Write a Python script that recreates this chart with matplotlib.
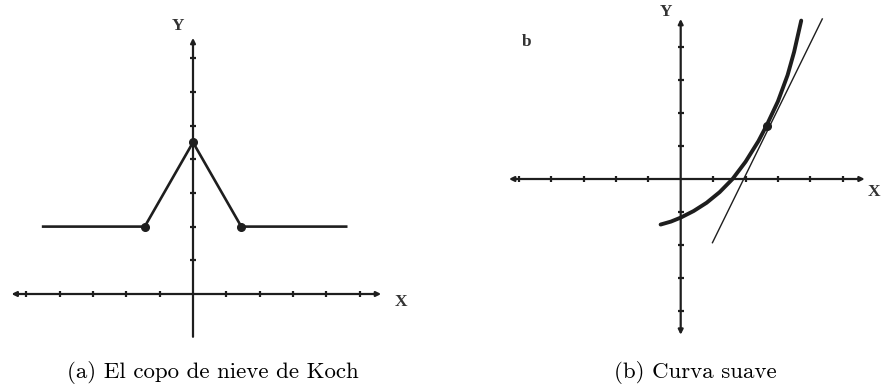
import matplotlib
matplotlib.use('Agg')
import matplotlib.pyplot as plt
import numpy as np

# (a) copo de Koch: tramo con pico
koch_x = [-4.5, -1.45, 0.0, 1.45, 4.6]
koch_y = [2.0, 2.0, 4.5, 2.0, 2.0]
koch_dots_x = [-1.45, 0.0, 1.45]
koch_dots_y = [2.0, 4.5, 2.0]
a_xticks = [-5, -4, -3, -2, -1, 1, 2, 3, 4, 5]
a_yticks = [1, 2, 3, 4, 5, 6, 7]

# (b) curva suave + tangente
curva_x = [-0.62, -0.3, 0.0, 0.4, 0.8, 1.2, 1.6, 2.0, 2.4, 2.65, 3.0, 3.3, 3.5, 3.72]
curva_y = [-1.38, -1.29, -1.17, -0.97, -0.72, -0.40, 0.0, 0.52, 1.15, 1.62, 2.35, 3.15, 3.85, 4.8]
tang_x = [0.98, 4.37]
tang_y = [-1.93, 4.85]
punto = (2.65, 1.62)
b_xticks = [-5, -4, -3, -2, -1, 1, 2, 3, 4, 5]
b_yticks = [-4, -3, -2, -1, 1, 2, 3, 4]

W, H = 881, 387
tinta = '#1e1e1e'
fig = plt.figure(figsize=(W / 100, H / 100), dpi=100)


def panel(px0, px1, ox, oy, ux, uy):
    # ejes en pixeles -> coordenadas de datos
    ax = fig.add_axes([px0 / W, (H - 345) / H, (px1 - px0) / W, 345 / H])
    ax.set_xlim((px0 - ox) / ux, (px1 - ox) / ux)
    ax.set_ylim((oy - 345) / uy, oy / uy)
    ax.axis('off')
    return ax


def flecha(ax, p0, p1, estilo):
    ax.annotate('', xy=p1, xytext=p0,
                arrowprops=dict(arrowstyle=estilo, lw=1.6, color=tinta,
                                mutation_scale=7, shrinkA=0, shrinkB=0))


def etiqueta(ax, x, y, s):
    ax.text(x, y, s, fontsize=12.5, family='Liberation Serif', weight='bold',
            color='#333333', ha='center', va='center', clip_on=False)


# ---- panel (a)
ax1 = panel(0, 440, 193, 294, 33.3, 33.7)
flecha(ax1, (-5.45, 0), (5.65, 0), '<|-|>')
flecha(ax1, (0, -1.27), (0, 7.6), '-|>')
ax1.plot(a_xticks, [0] * len(a_xticks), ls='none', marker='|', ms=5, mew=1.6, color=tinta)
ax1.plot([0] * len(a_yticks), a_yticks, ls='none', marker='_', ms=5, mew=1.6, color=tinta)
ax1.plot(koch_x, koch_y, color=tinta, lw=1.9)
ax1.plot(koch_dots_x, koch_dots_y, ls='none', marker='o', ms=5.5, color=tinta)
etiqueta(ax1, -0.45, 7.95, 'Y')
etiqueta(ax1, 6.25, -0.25, 'X')

# ---- panel (b)
ax2 = panel(440, 881, 680.7, 179, 32.4, 33.0)
flecha(ax2, (-5.3, 0), (5.68, 0), '<|-|>')
flecha(ax2, (0, 4.85), (0, -4.72), '<|-|>')
ax2.plot(b_xticks, [0] * len(b_xticks), ls='none', marker='|', ms=5, mew=1.6, color=tinta)
ax2.plot([0] * len(b_yticks), b_yticks, ls='none', marker='_', ms=5, mew=1.6, color=tinta)
ax2.plot(tang_x, tang_y, color=tinta, lw=1.0)
ax2.plot(curva_x, curva_y, color=tinta, lw=2.8, solid_capstyle='round')
ax2.plot([punto[0]], [punto[1]], ls='none', marker='o', ms=5.5, color=tinta)
etiqueta(ax2, -0.45, 5.05, 'Y')
etiqueta(ax2, 5.95, -0.4, 'X')
etiqueta(ax2, -4.75, 4.15, 'b')

# pies de figura
fig.text(213 / W, 1 - 373 / H, '(a) El copo de nieve de Koch', family='cmr10',
         fontsize=16.5, ha='center', va='center')
fig.text(695 / W, 1 - 373 / H, '(b) Curva suave', family='cmr10',
         fontsize=16.5, ha='center', va='center')

fig.savefig('out.png', dpi=100, facecolor='white')
